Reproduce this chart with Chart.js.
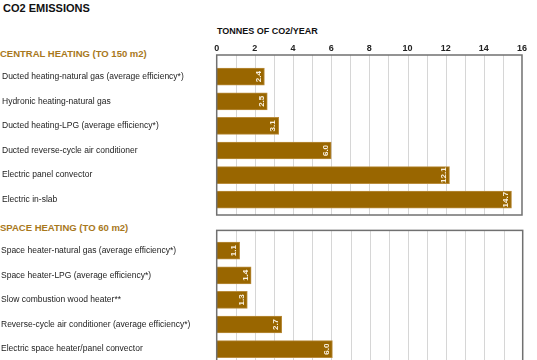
<!DOCTYPE html>
<html>
<head>
<meta charset="utf-8">
<script src="https://cdn.jsdelivr.net/npm/chart.js@4.4.1/dist/chart.umd.min.js"></script>
<style>
  body { margin: 0; width: 537px; height: 360px; overflow: hidden; background: #fff; position: relative;
         font-family: "Liberation Sans", Arial, sans-serif; }
  .txt { position: absolute; white-space: nowrap; font-weight: bold; line-height: 1; }
  .box { position: absolute; left: 0; width: 537px; }
</style>
</head>
<body>
<div class="txt" style="left:3px;top:2.5px;font-size:11px;color:#111;">CO2 EMISSIONS</div>
<div class="txt" style="left:217px;top:26.8px;font-size:9px;color:#111;">TONNES OF CO2/YEAR</div>
<div class="txt" style="left:0px;top:48.7px;font-size:9.5px;color:#a8781c;">CENTRAL HEATING (TO 150 m2)</div>
<div class="txt" style="left:0px;top:223px;font-size:9.5px;color:#a8781c;">SPACE HEATING (TO 60 m2)</div>

<div class="box" style="top:0;height:222px;"><canvas id="central"></canvas></div>
<div class="box" style="top:222px;height:150px;"><canvas id="space"></canvas></div>

<script>
// central heating (to 150 m2)
const centralLabels = [
  "Ducted heating-natural gas (average efficiency*)",
  "Hydronic heating-natural gas",
  "Ducted heating-LPG (average efficiency*)",
  "Ducted reverse-cycle air conditioner",
  "Electric panel convector",
  "Electric in-slab"
];
const centralValues = [2.5, 2.65, 3.25, 6.0, 12.2, 15.45];   // bar lengths as drawn
const centralText = ["2.4", "2.5", "3.1", "6.0", "12.1", "14.7"]; // printed values

// space heating (to 60 m2)
const spaceLabels = [
  "Space heater-natural gas (average efficiency*)",
  "Space heater-LPG (average efficiency*)",
  "Slow combustion wood heater**",
  "Reverse-cycle air conditioner (average efficiency*)",
  "Electric space heater/panel convector"
];
const spaceValues = [1.2, 1.8, 1.6, 3.4, 6.05];
const spaceText = ["1.1", "1.4", "1.3", "2.7", "6.0"];

const xMin = 0, xMax = 16, xStep = 2;

const FONT = '"Liberation Sans", Arial, sans-serif';
const BAR = "#996600";

// frame + grid lines reaching a bit past the category area
const framePlugin = {
  id: "frame",
  beforeDatasetsDraw(chart, args, opts) {
    const { ctx, chartArea: a, scales: { x } } = chart;
    const top = a.top - opts.above, bottom = a.bottom + opts.below;
    ctx.save();
    ctx.strokeStyle = "#d6d6d6";
    ctx.lineWidth = 1;
    for (let v = xMin + 1; v < xMax; v++) {
      const px = Math.round(x.getPixelForValue(v)) + 0.5;
      ctx.beginPath();
      ctx.moveTo(px, top);
      ctx.lineTo(px, bottom);
      ctx.stroke();
    }
    ctx.restore();
  },
  afterDatasetsDraw(chart, args, opts) {
    const { ctx, chartArea: a } = chart;
    const top = a.top - opts.above, bottom = a.bottom + opts.below;
    ctx.save();
    ctx.strokeStyle = "#707070";
    ctx.lineWidth = 1.5;
    ctx.strokeRect(a.left, top, a.right - a.left, bottom - top);

    // value labels, rotated, at the end of each bar
    const texts = opts.texts;
    ctx.fillStyle = "#fbf3e4";
    ctx.font = "bold 8px " + FONT;
    ctx.textAlign = "center";
    ctx.textBaseline = "middle";
    chart.getDatasetMeta(0).data.forEach((bar, i) => {
      ctx.save();
      ctx.translate(bar.x - 5.5, bar.y);
      ctx.rotate(-Math.PI / 2);
      ctx.fillText(texts[i], 0, 0);
      ctx.restore();
    });
    ctx.restore();
  }
};

function makeChart(id, labels, values, texts, showTicks, pad, yWidth, above, below) {
  return new Chart(document.getElementById(id), {
    type: "bar",
    data: {
      labels: labels,
      datasets: [{
        data: values,
        backgroundColor: BAR,
        borderColor: "#b98c3c",
        borderWidth: 1,
        borderSkipped: "left",
        barThickness: 17
      }]
    },
    options: {
      indexAxis: "y",
      responsive: true,
      maintainAspectRatio: false,
      animation: false,
      layout: { padding: pad },
      scales: {
        x: {
          display: showTicks,
          position: "top",
          min: xMin,
          max: xMax,
          ticks: { stepSize: xStep, color: "#222", padding: 10, font: { family: FONT, size: 9, weight: "bold" } },
          grid: { display: false, drawTicks: false },
          border: { display: false },
          afterFit(axis) { axis.height = showTicks ? 24.4 : 0; }
        },
        y: {
          ticks: { crossAlign: "far", color: "#222", padding: 0, font: { family: FONT, size: 8.5 } },
          grid: { display: false, drawTicks: false },
          border: { display: false },
          afterFit(axis) { axis.width = yWidth; }
        }
      },
      plugins: {
        legend: { display: false },
        tooltip: { enabled: false },
        frame: { above: above, below: below, texts: texts }
      }
    },
    plugins: [framePlugin]
  });
}

makeChart("central", centralLabels, centralValues, centralText, true,
  { top: 40, bottom: 10, left: 2, right: 14.3 }, 214.7, 9.4, 3);
makeChart("space", spaceLabels, spaceValues, spaceText, false,
  { top: 16.4, bottom: 10.6, left: 1, right: 14.3 }, 215.7, 8, 3);
</script>
</body>
</html>
